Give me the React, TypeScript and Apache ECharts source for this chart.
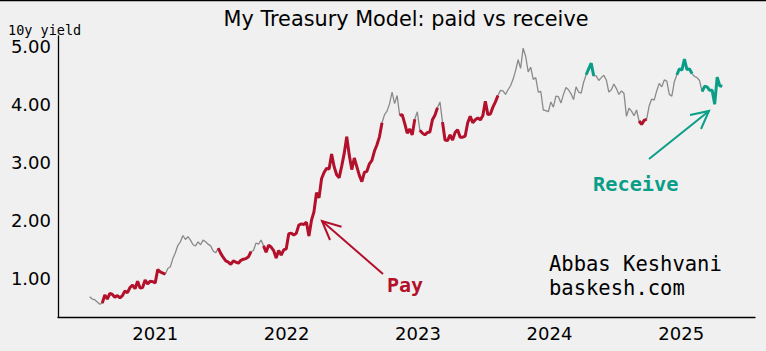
import React, { useEffect, useRef } from "react";
import * as echarts from "echarts";

// Weekly (Friday) US 10y Treasury yield, starting 2020-07-03
const startDate = "2020-07-03";
const yield2020 = [0.68, 0.64, 0.63, 0.59, 0.55, 0.57, 0.71, 0.64, 0.74, 0.72, 0.67, 0.70, 0.66, 0.70, 0.78, 0.75, 0.84, 0.88, 0.82, 0.95, 0.83, 0.84, 0.97, 0.90, 0.95, 0.94];
const yield2021 = [0.92, 1.15, 1.11, 1.09, 1.07, 1.17, 1.20, 1.34, 1.44, 1.57, 1.63, 1.74, 1.67, 1.72, 1.66, 1.58, 1.56, 1.63, 1.58, 1.66, 1.63, 1.59, 1.56, 1.47, 1.44, 1.52, 1.43, 1.36, 1.30, 1.28, 1.24, 1.30, 1.28, 1.26, 1.31, 1.33, 1.34, 1.37, 1.46, 1.48, 1.61, 1.59, 1.66, 1.56, 1.45, 1.57, 1.54, 1.48, 1.35, 1.48, 1.40, 1.49, 1.51];
const yield2022 = [1.77, 1.78, 1.75, 1.78, 1.92, 1.94, 1.93, 1.97, 1.73, 2.00, 2.15, 2.48, 2.39, 2.72, 2.83, 2.90, 2.89, 3.15, 2.93, 2.79, 2.74, 2.94, 3.16, 3.45, 3.13, 2.88, 3.08, 2.93, 2.78, 2.67, 2.83, 2.85, 2.98, 3.04, 3.20, 3.31, 3.45, 3.69, 3.83, 3.89, 4.02, 4.22, 4.02, 4.16, 3.82, 3.83, 3.68, 3.51, 3.58, 3.48, 3.75, 3.88];
const yield2023 = [3.56, 3.51, 3.48, 3.52, 3.53, 3.74, 3.82, 3.95, 4.05, 3.70, 3.39, 3.38, 3.48, 3.39, 3.52, 3.57, 3.44, 3.44, 3.46, 3.69, 3.80, 3.69, 3.74, 3.77, 3.74, 3.81, 4.06, 3.83, 3.84, 3.96, 4.05, 4.16, 4.25, 4.24, 4.18, 4.26, 4.33, 4.44, 4.59, 4.78, 4.63, 4.98, 4.84, 4.57, 4.65, 4.44, 4.47, 4.22, 4.23, 3.91, 3.90, 3.88];
const yield2024 = [4.05, 3.96, 4.15, 4.14, 4.03, 4.18, 4.30, 4.26, 4.19, 4.09, 4.31, 4.22, 4.20, 4.39, 4.52, 4.62, 4.72, 4.50, 4.50, 4.42, 4.47, 4.51, 4.43, 4.22, 4.26, 4.36, 4.28, 4.18, 4.24, 4.20, 3.80, 3.94, 3.89, 3.81, 3.91, 3.72, 3.66, 3.73, 3.75, 3.98, 4.10, 4.08, 4.24, 4.37, 4.31, 4.43, 4.41, 4.18, 4.15, 4.40, 4.52, 4.62];
const yield2025 = [4.60, 4.79, 4.61, 4.62, 4.54, 4.49, 4.47, 4.42, 4.23, 4.32, 4.31, 4.25, 4.25, 4.01, 4.48, 4.33, 4.32];

const payRanges: [string, string][] = [
  ["2020-08-07", "2021-01-29"],
  ["2021-06-25", "2021-09-24"],
  ["2021-10-29", "2022-09-23"],
  ["2022-11-11", "2022-12-23"],
  ["2023-01-06", "2023-02-24"],
  ["2023-03-10", "2023-08-11"],
  ["2024-09-06", "2024-09-27"],
];
const receiveRanges: [string, string][] = [
  ["2024-04-12", "2024-05-03"],
  ["2024-12-20", "2025-01-31"],
  ["2025-02-28", "2025-04-25"],
];

const yearTicks = [2021, 2022, 2023, 2024, 2025];
const valueTicks = [1, 2, 3, 4, 5];

const RED = "#b3102b";
const TEAL = "#0a9e88";
const GRAY = "#8a8a8a";

const ts = (s: string) => {
  const [y, m, d] = s.split("-").map(Number);
  return Date.UTC(y, m - 1, d);
};

export default function App() {
  const ref = useRef<HTMLDivElement>(null);
  useEffect(() => {
    if (!ref.current) return;
    const chart = echarts.init(ref.current, undefined, { renderer: "svg" });
    const values = [...yield2020, ...yield2021, ...yield2022, ...yield2023, ...yield2024, ...yield2025];
    const t0 = ts(startDate);
    const week = 7 * 24 * 3600 * 1000;
    const dates = values.map((_, i) => t0 + i * week);
    const inRanges = (t: number, rs: [string, string][]) =>
      rs.some(([a, b]) => t >= ts(a) && t <= ts(b));
    const full = dates.map((t, i) => [t, values[i]]);
    const pay = dates.map((t, i) => [t, inRanges(t, payRanges) ? values[i] : null]);
    const rec = dates.map((t, i) => [t, inRanges(t, receiveRanges) ? values[i] : null]);

    const mono = "'DejaVu Sans Mono', monospace";
    const sans = "'DejaVu Sans', sans-serif";

    chart.setOption({
      animation: false,
      backgroundColor: "#f0f0f0",
      grid: { left: 58, right: 11, top: 36, bottom: 34 },
      xAxis: {
        type: "value",
        min: ts("2020-04-06"),
        max: ts("2025-07-25"),
        axisLine: { show: true, lineStyle: { color: "#000", width: 1.3 } },
        axisTick: { show: false },
        splitLine: { show: false },
        axisLabel: {
          customValues: yearTicks.map((y) => Date.UTC(y, 0, 1)),
          formatter: (v: number) => String(new Date(v).getUTCFullYear()),
          fontSize: 18,
          color: "#000",
          fontFamily: sans,
          margin: 7,
        },
      },
      yAxis: {
        type: "value",
        min: 0.33,
        max: 5.19,
        axisLine: { show: true, lineStyle: { color: "#000", width: 1.3 } },
        axisTick: { show: false },
        splitLine: { show: false },
        axisLabel: {
          customValues: valueTicks,
          formatter: (v: number) => v.toFixed(2),
          fontSize: 18,
          color: "#000",
          fontFamily: sans,
          margin: 7,
        },
      },
      series: [
        { type: "line", data: full, symbol: "none", lineStyle: { color: GRAY, width: 1.3 }, z: 2 },
        { type: "line", data: pay, symbol: "none", connectNulls: false, lineStyle: { color: RED, width: 3 }, z: 3 },
        { type: "line", data: rec, symbol: "none", connectNulls: false, lineStyle: { color: TEAL, width: 3 }, z: 3 },
      ],
      graphic: [
        { type: "rect", shape: { x: 0, y: 0, width: 766, height: 1.2 }, style: { fill: "#000" } },
        { type: "text", x: 406, y: 19, style: { text: "My Treasury Model: paid vs receive", font: `20.8px ${sans}`, fill: "#000", textAlign: "center", textVerticalAlign: "middle" } },
        { type: "text", x: 8, y: 30, style: { text: "10y yield", font: `13.5px ${mono}`, fill: "#000", textAlign: "left", textVerticalAlign: "middle" } },
        { type: "line", shape: { x1: 383, y1: 274, x2: 322, y2: 221 }, style: { stroke: RED, lineWidth: 2 } },
        { type: "polyline", shape: { points: [[341.5, 226.7], [322, 221], [330, 240]] }, style: { stroke: RED, lineWidth: 2, fill: null } },
        { type: "text", x: 387, y: 285, style: { text: "Pay", font: `bold 20px ${mono}`, fill: RED, textAlign: "left", textVerticalAlign: "middle" } },
        { type: "line", shape: { x1: 649, y1: 159, x2: 709, y2: 111 }, style: { stroke: TEAL, lineWidth: 2 } },
        { type: "polyline", shape: { points: [[690, 115], [709, 111], [701, 129]] }, style: { stroke: TEAL, lineWidth: 2, fill: null } },
        { type: "text", x: 593, y: 184, style: { text: "Receive", font: `bold 20.3px ${mono}`, fill: TEAL, textAlign: "left", textVerticalAlign: "middle" } },
        { type: "text", x: 549, y: 264, style: { text: "Abbas Keshvani", font: `20.5px ${mono}`, fill: "#000", textAlign: "left", textVerticalAlign: "middle" } },
        { type: "text", x: 549, y: 288, style: { text: "baskesh.com", font: `20.5px ${mono}`, fill: "#000", textAlign: "left", textVerticalAlign: "middle" } },
      ],
    });
    return () => chart.dispose();
  }, []);
  return (
    <div
      ref={ref}
      style={{ position: "fixed", left: 0, top: 0, width: 766, height: 351 }}
    />
  );
}
